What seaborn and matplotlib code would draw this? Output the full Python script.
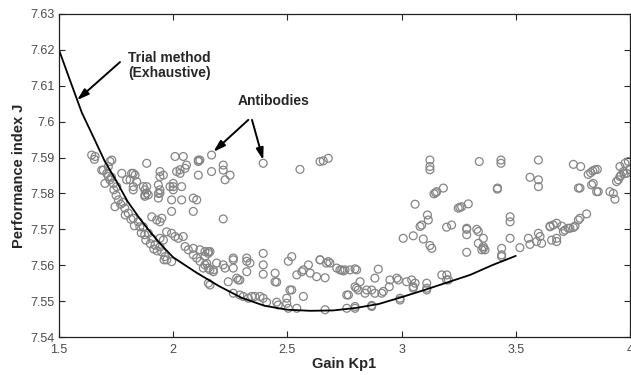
import matplotlib
matplotlib.use("Agg")
import matplotlib.pyplot as plt
import seaborn as sns
import pandas as pd

sns.set_style("ticks")
plt.rcParams['font.family'] = ['Liberation Sans', 'DejaVu Sans']

# ---- data: antibodies (scatter) ----
g1_x = [1.643, 1.658, 1.655, 1.687, 1.694, 1.709, 1.716, 1.723, 1.731, 1.716, 1.723, 1.701, 1.738, 1.753, 1.760,
        1.745, 1.788, 1.803, 1.825, 1.847, 1.854, 1.869, 1.891, 1.906, 1.920, 1.942, 1.950, 1.964, 1.972, 1.993,
        1.730, 1.740, 1.750, 1.770, 1.780, 1.790, 1.815, 1.830, 1.860, 1.875, 1.880, 1.900, 1.915, 1.930, 1.960]
g1_y = [7.5907, 7.5903, 7.5895, 7.5865, 7.5865, 7.5856, 7.5875, 7.5889, 7.5893, 7.5847, 7.5838, 7.5828, 7.5828, 7.5819, 7.5782,
        7.5763, 7.5759, 7.5745, 7.5731, 7.5721, 7.5707, 7.5707, 7.5689, 7.5675, 7.5656, 7.5651, 7.5637, 7.5624, 7.5615, 7.5610,
        7.5845, 7.5810, 7.5795, 7.5770, 7.5775, 7.5740, 7.5728, 7.5710, 7.5690, 7.5685, 7.5670, 7.5660, 7.5645, 7.5640, 7.5615]

g2_x = [1.775, 1.796, 1.811, 1.818, 1.825, 1.833, 1.840, 1.825, 1.825, 1.869, 1.884, 1.876, 1.891, 1.884, 1.876,
        1.876, 1.884, 1.935, 1.942, 1.935, 1.942, 1.942, 1.935, 1.942, 1.957, 1.986, 2.000, 2.000, 2.000, 1.993,
        2.037, 1.993, 2.037, 2.030, 2.052, 2.015, 2.008, 2.030, 2.058, 2.044, 2.088, 2.088, 2.103, 1.928, 1.942,
        1.950, 1.906, 1.942, 1.957, 1.971, 1.993, 2.008, 2.022, 2.044]
g2_y = [7.5856, 7.5838, 7.5838, 7.5856, 7.5856, 7.5851, 7.5833, 7.5819, 7.5810, 7.5819, 7.5801, 7.5792, 7.5796, 7.5819, 7.5810,
        7.5796, 7.5884, 7.5824, 7.5801, 7.5787, 7.5847, 7.5810, 7.5800, 7.5861, 7.5851, 7.5819, 7.5828, 7.5810, 7.5819, 7.5782,
        7.5782, 7.5750, 7.5819, 7.5856, 7.5870, 7.5861, 7.5903, 7.5866, 7.5879, 7.5903, 7.5787, 7.5750, 7.5782, 7.5726, 7.5721,
        7.5731, 7.5735, 7.5675, 7.5670, 7.5693, 7.5689, 7.5680, 7.5675, 7.5680]

g3_x = [2.110, 2.110, 2.117, 2.110, 2.168, 2.168, 2.219, 2.219, 2.249, 2.227, 2.219, 2.394, 2.555, 2.643, 2.657, 2.679]
g3_y = [7.5893, 7.5889, 7.5893, 7.5851, 7.5907, 7.5861, 7.5879, 7.5865, 7.5851, 7.5838, 7.5729, 7.5884, 7.5867, 7.5889, 7.5891, 7.5898]

g4_x = [2.052, 2.066, 2.088, 2.103, 2.117, 2.139, 2.154, 2.154, 2.139, 2.088, 2.117, 2.139, 2.154, 2.161, 2.147,
        2.132, 2.161, 2.176, 2.176, 2.161, 2.154]
g4_y = [7.5652, 7.5643, 7.5629, 7.5620, 7.5611, 7.5601, 7.5592, 7.5638, 7.5624, 7.5647, 7.5643, 7.5638, 7.5633, 7.5638, 7.5605,
        7.5592, 7.5587, 7.5582, 7.5587, 7.5545, 7.5550]

g5_x = [2.190, 2.219, 2.227, 2.263, 2.263, 2.263, 2.278, 2.285, 2.292, 2.322, 2.322, 2.336, 2.322, 2.241, 2.394,
        2.394, 2.394, 2.446, 2.446, 2.453, 2.504, 2.519, 2.511, 2.519, 2.570, 2.541, 2.563, 2.570, 2.592, 2.600,
        2.628, 2.665, 2.643, 2.671, 2.686, 2.716, 2.730, 2.745, 2.760, 2.643, 2.679, 2.738, 2.752, 2.774, 2.796,
        2.803, 2.898]
g5_y = [7.5606, 7.5601, 7.5592, 7.5620, 7.5615, 7.5592, 7.5564, 7.5559, 7.5559, 7.5620, 7.5611, 7.5606, 7.5582, 7.5554, 7.5633,
        7.5601, 7.5575, 7.5578, 7.5554, 7.5553, 7.5611, 7.5624, 7.5531, 7.5531, 7.5513, 7.5573, 7.5582, 7.5587, 7.5601, 7.5578,
        7.5568, 7.5565, 7.5615, 7.5606, 7.5606, 7.5592, 7.5587, 7.5584, 7.5517, 7.5615, 7.5610, 7.5587, 7.5587, 7.5587, 7.5590,
        7.5587, 7.5589]

g6_x = [2.263, 2.292, 2.307, 2.329, 2.344, 2.358, 2.380, 2.394, 2.409, 2.453, 2.460, 2.497, 2.504, 2.541, 2.497,
        2.665, 2.760, 2.796, 2.796, 2.869, 2.869, 2.993, 2.993]
g6_y = [7.5522, 7.5517, 7.5513, 7.5508, 7.5513, 7.5513, 7.5513, 7.5508, 7.5497, 7.5497, 7.5489, 7.5494, 7.5480, 7.5480, 7.5508,
        7.5476, 7.5480, 7.5485, 7.5480, 7.5488, 7.5485, 7.5508, 7.5503]

g7_x = [2.818, 2.796, 2.767, 2.810, 2.803, 2.840, 2.847, 2.869, 2.883, 2.913, 2.920, 2.883, 2.949, 2.979, 2.986,
        3.022, 3.044, 3.059, 3.051, 3.051, 3.110, 3.110, 3.110, 3.176, 3.198, 3.205, 3.197, 2.946]
g7_y = [7.5554, 7.5540, 7.5517, 7.5531, 7.5536, 7.5522, 7.5531, 7.5531, 7.5522, 7.5522, 7.5527, 7.5564, 7.5559, 7.5564, 7.5559,
        7.5554, 7.5559, 7.5550, 7.5540, 7.5536, 7.5550, 7.5536, 7.5531, 7.5573, 7.5573, 7.5559, 7.5559, 7.5540]

g8_x = [3.124, 3.124, 3.124, 3.340, 3.435, 3.435, 3.183, 3.154, 3.142, 3.149, 3.420, 3.419, 3.059, 3.292, 3.263,
        3.248, 3.255, 3.113, 3.117, 3.088, 3.081, 3.197, 3.219, 3.285, 3.285, 3.329, 3.007, 3.051, 3.095, 3.124,
        3.132, 3.285, 3.336, 3.358, 3.336, 3.358, 3.351, 3.285, 3.358, 3.365, 3.438, 3.438, 3.438, 3.475, 3.518,
        3.475, 3.475]
g8_y = [7.5893, 7.5875, 7.5866, 7.5889, 7.5893, 7.5884, 7.5815, 7.5805, 7.5799, 7.5802, 7.5815, 7.5812, 7.5770, 7.5771, 7.5763,
        7.5759, 7.5761, 7.5740, 7.5726, 7.5712, 7.5708, 7.5706, 7.5712, 7.5703, 7.5700, 7.5700, 7.5675, 7.5682, 7.5673, 7.5655,
        7.5647, 7.5685, 7.5694, 7.5675, 7.5661, 7.5652, 7.5643, 7.5636, 7.5647, 7.5643, 7.5647, 7.5624, 7.5629, 7.5675, 7.5649,
        7.5735, 7.5721]

g9_x = [3.599, 3.752, 3.784, 3.817, 3.828, 3.837, 3.847, 3.857, 3.562, 3.599, 3.599, 3.774, 3.781, 3.839, 3.832,
        3.861, 3.854, 3.912, 3.927, 3.934, 3.956, 3.978, 3.993, 3.971, 3.956, 3.941, 3.949, 3.985, 4.000, 3.960,
        3.975, 3.555, 3.562, 3.591, 3.606, 3.599, 3.613, 3.650, 3.657, 3.679, 3.679, 3.708, 3.715, 3.730, 3.752,
        3.650, 3.664, 3.679, 3.701, 3.737, 3.759, 3.774, 3.781, 3.810]
g9_y = [7.5893, 7.5881, 7.5875, 7.5853, 7.5858, 7.5863, 7.5866, 7.5867, 7.5845, 7.5838, 7.5819, 7.5815, 7.5815, 7.5828, 7.5824,
        7.5805, 7.5805, 7.5805, 7.5800, 7.5784, 7.5875, 7.5884, 7.5889, 7.5861, 7.5847, 7.5833, 7.5838, 7.5856, 7.5866, 7.5850,
        7.5855, 7.5675, 7.5658, 7.5666, 7.5680, 7.5689, 7.5661, 7.5707, 7.5670, 7.5675, 7.5666, 7.5694, 7.5698, 7.5703, 7.5705,
        7.5709, 7.5712, 7.5717, 7.5709, 7.5703, 7.5709, 7.5726, 7.5731, 7.5743]

# ---- data: trial (exhaustive) method curve ----
curve_gain = [1.50, 1.55, 1.60, 1.65, 1.70, 1.75, 1.80, 1.85, 1.90, 1.95, 2.00, 2.10, 2.20, 2.30, 2.40, 2.50, 2.60,
              2.70, 2.80, 2.90, 3.00, 3.10, 3.20, 3.30, 3.40, 3.50]
curve_J = [7.6200, 7.6112, 7.6025, 7.5958, 7.5890, 7.5836, 7.5778, 7.5733, 7.5692, 7.5655, 7.5622, 7.5580, 7.5542,
           7.5509, 7.5487, 7.5476, 7.5473, 7.5474, 7.5481, 7.5492, 7.5511, 7.5531, 7.5552, 7.5573, 7.5601, 7.5626]

x_ticks = [1.5, 2, 2.5, 3, 3.5, 4]
x_tick_labels = ["1.5", "2", "2.5", "3", "3.5", "4"]
y_ticks = [7.54, 7.55, 7.56, 7.57, 7.58, 7.59, 7.60, 7.61, 7.62, 7.63]
y_tick_labels = ["7.54", "7.55", "7.56", "7.57", "7.58", "7.59", "7.6", "7.61", "7.62", "7.63"]

gx = g1_x + g2_x + g3_x + g4_x + g5_x + g6_x + g7_x + g8_x + g9_x
gy = g1_y + g2_y + g3_y + g4_y + g5_y + g6_y + g7_y + g8_y + g9_y
df = pd.DataFrame({"gain": gx, "J": gy})
cdf = pd.DataFrame({"gain": curve_gain, "J": curve_J})

fig = plt.figure(figsize=(6.31, 3.75), dpi=100)
ax = fig.add_axes([59 / 631, 1 - 337 / 375, (630 - 59) / 631, (337 - 14) / 375])

sns.scatterplot(data=df, x="gain", y="J", ax=ax, marker="o", s=32,
                facecolor="none", edgecolor="#858585", linewidth=0.9)
sns.lineplot(data=cdf, x="gain", y="J", ax=ax, color="black", linewidth=1.3)

ax.set_xlim(1.5, 4)
ax.set_ylim(7.54, 7.63)
ax.set_xticks(x_ticks)
ax.set_xticklabels(x_tick_labels)
ax.set_yticks(y_ticks)
ax.set_yticklabels(y_tick_labels)
ax.tick_params(direction="in", top=True, right=True, length=4, width=0.8,
               labelsize=9, labelcolor="#4a4a4a")
ax.tick_params(axis="y", pad=3)
ax.tick_params(axis="x", pad=5)
for s in ax.spines.values():
    s.set_visible(True)
    s.set_linewidth(0.9)
    s.set_color("#222222")

ax.set_xlabel("Gain Kp1", fontweight="bold", fontsize=10.5, labelpad=1)
ax.set_ylabel("Performance index J", fontweight="bold", fontsize=10.5, labelpad=3)

arrow = dict(arrowstyle="-|>,head_length=0.7,head_width=0.22", color="black", lw=1.4, shrinkA=0, shrinkB=0)
ax.annotate("", xy=(1.579, 7.6060), xytext=(1.767, 7.6166), arrowprops=arrow)
ax.annotate("", xy=(2.176, 7.5916), xytext=(2.329, 7.6005), arrowprops=arrow)
ax.annotate("", xy=(2.394, 7.5893), xytext=(2.345, 7.6005), arrowprops=arrow)
ax.text(1.802, 7.6198, "Trial method\n(Exhaustive)", fontweight="bold", fontsize=10,
        ha="left", va="top", linespacing=1.1)
ax.text(2.44, 7.6076, "Antibodies", fontweight="bold", fontsize=10, ha="center", va="top")

fig.savefig("out.png", dpi=100)
